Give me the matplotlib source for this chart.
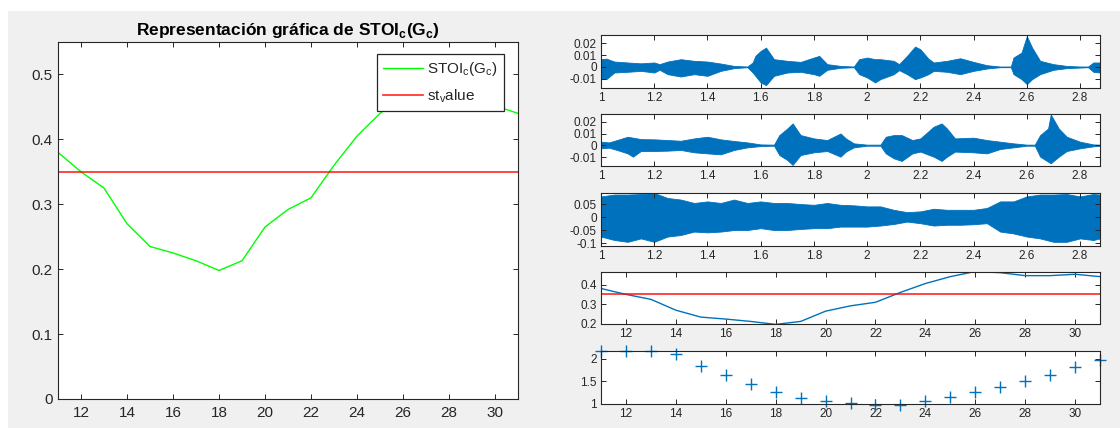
import matplotlib
matplotlib.use("Agg")
import matplotlib.pyplot as plt
from matplotlib.patches import Rectangle

plt.rcParams['font.family'] = ['Liberation Sans', 'DejaVu Sans']
plt.rcParams['mathtext.fontset'] = 'custom'
plt.rcParams['mathtext.rm'] = 'Liberation Sans'
plt.rcParams['mathtext.bf'] = 'Liberation Sans:bold'
plt.rcParams['axes.unicode_minus'] = False

# curva STOI frente a Gc
gc = [11, 12, 13, 14, 15, 16, 17, 18, 19, 20, 21, 22, 23, 24, 25, 26, 27, 28, 29, 30, 31]
stoi = [0.38, 0.35, 0.325, 0.27, 0.235, 0.225, 0.213, 0.198, 0.213, 0.265, 0.292,
        0.31, 0.36, 0.405, 0.44, 0.466, 0.46, 0.445, 0.445, 0.452, 0.44]
st_value = 0.35
# marcadores "+" del panel inferior
cruces = [2.18, 2.18, 2.18, 2.10, 1.85, 1.63, 1.43, 1.26, 1.12, 1.06, 1.01, 0.98,
          0.98, 1.06, 1.16, 1.26, 1.37, 1.50, 1.65, 1.81, 1.98]

# envolventes de las señales
t1 = [1.00, 1.02, 1.05, 1.10, 1.15, 1.20, 1.22, 1.25, 1.30, 1.35, 1.40, 1.45, 1.50, 1.55,
      1.57, 1.58, 1.60, 1.62, 1.65, 1.70, 1.75, 1.80, 1.82, 1.85, 1.90, 1.95, 1.97, 2.00,
      2.03, 2.05, 2.10, 2.12, 2.15, 2.18, 2.20, 2.23, 2.25, 2.30, 2.35, 2.40, 2.45, 2.50,
      2.54, 2.55, 2.58, 2.60, 2.62, 2.65, 2.70, 2.75, 2.80, 2.83, 2.85, 2.875]
up1 = [0.0065, 0.007, 0.0045, 0.0037, 0.003, 0.0037, 0.0023, 0.0045, 0.0065, 0.0051,
       0.0045, 0.0028, 0.0008, 0.0003, 0.0037, 0.0093, 0.0135, 0.0163, 0.0065, 0.0051,
       0.0042, 0.0079, 0.0093, 0.0023, 0.0008, 0.0003, 0.0065, 0.0079, 0.0065, 0.0065,
       0.0051, 0.0023, 0.0093, 0.0172, 0.0149, 0.007, 0.0037, 0.0051, 0.0073, 0.0042,
       0.0014, 0.0003, 0.0003, 0.0079, 0.0121, 0.026, 0.0163, 0.0051, 0.0023, 0.0008,
       0.0003, 0.0003, 0.0037, 0.0037]
lo1 = [-0.0104, -0.0104, -0.0048, -0.0042, -0.0034, -0.0048, -0.0025, -0.0062, -0.0082,
       -0.0062, -0.0076, -0.0034, -0.0011, -0.0003, -0.0048, -0.0076, -0.0132, -0.0155,
       -0.0076, -0.0048, -0.0042, -0.0062, -0.0076, -0.0025, -0.0008, -0.0003, -0.0062,
       -0.009, -0.0132, -0.0104, -0.0062, -0.0028, -0.0062, -0.0104, -0.009, -0.0062,
       -0.0034, -0.0042, -0.0062, -0.0034, -0.0014, -0.0003, -0.0003, -0.0062, -0.0104,
       -0.0146, -0.0104, -0.0062, -0.0025, -0.0011, -0.0006, -0.0003, -0.0042, -0.0048]

t2 = [1.00, 1.03, 1.06, 1.10, 1.12, 1.15, 1.20, 1.25, 1.30, 1.35, 1.40, 1.45, 1.50, 1.55,
      1.60, 1.65, 1.67, 1.70, 1.72, 1.75, 1.80, 1.85, 1.90, 1.92, 1.95, 2.00, 2.05, 2.07,
      2.10, 2.13, 2.17, 2.20, 2.25, 2.28, 2.30, 2.33, 2.40, 2.45, 2.50, 2.55, 2.60, 2.63,
      2.65, 2.68, 2.69, 2.72, 2.75, 2.80, 2.85, 2.875]
up2 = [0.0031, 0.0025, 0.0045, 0.0073, 0.0065, 0.0053, 0.0051, 0.0045, 0.0039, 0.0059,
       0.0073, 0.0051, 0.0037, 0.0025, 0.0008, 0.0006, 0.0087, 0.0143, 0.0186, 0.0087,
       0.0059, 0.0045, 0.0101, 0.0059, 0.0017, 0.0006, 0.0006, 0.0073, 0.0087, 0.0087,
       0.0045, 0.0059, 0.0158, 0.0186, 0.0143, 0.0059, 0.0065, 0.0045, 0.0031, 0.0017,
       0.0006, 0.0006, 0.0087, 0.0143, 0.0262, 0.0143, 0.0073, 0.0031, 0.0008, 0.0006]
lo2 = [-0.0025, -0.002, -0.0039, -0.0068, -0.0096, -0.0048, -0.0048, -0.0045, -0.0039,
       -0.0059, -0.0068, -0.0076, -0.0039, -0.0017, -0.0006, -0.0003, -0.0082, -0.0124,
       -0.0166, -0.0082, -0.0059, -0.0048, -0.0096, -0.0053, -0.0017, -0.0003, -0.0003,
       -0.0068, -0.011, -0.0132, -0.0068, -0.0053, -0.0096, -0.0132, -0.0096, -0.0053,
       -0.0059, -0.0068, -0.0031, -0.0017, -0.0003, -0.0003, -0.0096, -0.0138, -0.0152,
       -0.0096, -0.0048, -0.0025, -0.0008, -0.0003]

t3 = [1.00, 1.05, 1.10, 1.15, 1.20, 1.25, 1.30, 1.35, 1.40, 1.45, 1.50, 1.55, 1.60, 1.65,
      1.70, 1.75, 1.80, 1.85, 1.90, 1.95, 2.00, 2.05, 2.10, 2.15, 2.20, 2.25, 2.30, 2.35,
      2.40, 2.45, 2.50, 2.55, 2.60, 2.65, 2.70, 2.75, 2.80, 2.85, 2.875]
up3 = [0.079, 0.086, 0.086, 0.088, 0.092, 0.073, 0.067, 0.054, 0.060, 0.054, 0.067, 0.054,
       0.060, 0.054, 0.054, 0.050, 0.047, 0.054, 0.047, 0.045, 0.041, 0.041, 0.028, 0.019,
       0.022, 0.032, 0.028, 0.028, 0.028, 0.035, 0.060, 0.060, 0.079, 0.086, 0.086, 0.088,
       0.079, 0.088, 0.086]
lo3 = [-0.074, -0.087, -0.094, -0.081, -0.094, -0.074, -0.068, -0.055, -0.058, -0.055,
       -0.049, -0.049, -0.042, -0.049, -0.049, -0.045, -0.042, -0.042, -0.036, -0.036,
       -0.036, -0.032, -0.026, -0.017, -0.023, -0.032, -0.029, -0.029, -0.027, -0.023,
       -0.055, -0.062, -0.074, -0.081, -0.094, -0.094, -0.081, -0.087, -0.081]

azul = '#0072BD'
gris = '#262626'
W, H = 1120, 428

fig = plt.figure(figsize=(11.2, 4.28), dpi=100)
fig.patch.set_facecolor('white')
fig.add_artist(Rectangle((8 / W, 0), 1, 1 - 11 / H, transform=fig.transFigure,
                         facecolor='#f0f0f0', edgecolor='none', zorder=-10))


def estilo(ax, size, pad_x, pad_y):
    ax.set_facecolor('white')
    for s in ax.spines.values():
        s.set_color(gris)
        s.set_linewidth(0.8)
    ax.tick_params(direction='in', top=True, right=True, length=3.5, width=0.7,
                   colors=gris, labelsize=size, labelcolor=gris)
    ax.tick_params(axis='x', pad=pad_x)
    ax.tick_params(axis='y', pad=pad_y)


def caja(top, bottom, left=601, right=1100):
    return [left / W, 1 - bottom / H, (right - left) / W, (bottom - top) / H]


# panel izquierdo
ax = fig.add_axes(caja(42, 399, 58, 518))
estilo(ax, 11, 5, 4)
ax.plot(gc, stoi, color='#00ff00', lw=1.0, label=r'STOI$_\mathrm{c}$(G$_\mathrm{c}$)')
ax.axhline(st_value, color='#ff0000', lw=1.2, alpha=0.85, label=r'st$_\mathrm{v}$alue')
ax.set_xlim(11, 31)
ax.set_ylim(0, 0.55)
ax.set_xticks(range(12, 31, 2))
ax.set_yticks([0, 0.1, 0.2, 0.3, 0.4, 0.5])
ax.set_yticklabels(['0', '0.1', '0.2', '0.3', '0.4', '0.5'])
ax.set_title(r'Representación gráfica de STOI$_\mathbf{c}$(G$_\mathbf{c}$)',
             fontsize=12.5, fontweight='bold', color='black', pad=5)
leg = ax.legend(loc='upper right', bbox_to_anchor=(0.9696, 0.966), borderaxespad=0,
                fancybox=False, framealpha=1, edgecolor=gris, fontsize=11,
                handlelength=2.6, handletextpad=0.3, borderpad=0.4, labelspacing=0.6)
leg.get_frame().set_linewidth(0.9)
for txt in leg.get_texts():
    txt.set_color(gris)

# paneles derechos: señales
senales = [(t1, up1, lo1, (-0.0175, 0.027), [-0.01, 0, 0.01, 0.02], ['-0.01', '0', '0.01', '0.02']),
           (t2, up2, lo2, (-0.0175, 0.027), [-0.01, 0, 0.01, 0.02], ['-0.01', '0', '0.01', '0.02']),
           (t3, up3, lo3, (-0.108, 0.092), [-0.1, -0.05, 0, 0.05], ['-0.1', '-0.05', '0', '0.05'])]
tops = [35, 113.5, 193]
for (t, up, lo, yl, yt, ytl), top in zip(senales, tops):
    a = fig.add_axes(caja(top, top + 52.5))
    estilo(a, 8.5, 3, 3)
    a.fill_between(t, lo, up, color=azul, lw=0.6)
    a.set_xlim(1, 2.875)
    a.set_ylim(*yl)
    a.set_xticks([1, 1.2, 1.4, 1.6, 1.8, 2, 2.2, 2.4, 2.6, 2.8])
    a.set_xticklabels(['1', '1.2', '1.4', '1.6', '1.8', '2', '2.2', '2.4', '2.6', '2.8'])
    a.set_yticks(yt)
    a.set_yticklabels(ytl)

# STOI con umbral
a4 = fig.add_axes(caja(271.5, 324))
estilo(a4, 8.5, 3, 3)
a4.plot(gc, stoi, color=azul, lw=1.0)
a4.axhline(st_value, color='#ff0000', lw=1.2, alpha=0.85)
a4.set_xlim(11, 31)
a4.set_ylim(0.2, 0.466)
a4.set_xticks(range(12, 31, 2))
a4.set_yticks([0.2, 0.3, 0.4])
a4.set_yticklabels(['0.2', '0.3', '0.4'])

# cruces
a5 = fig.add_axes(caja(350.7, 403.7))
estilo(a5, 8.5, 3, 3)
a5.plot(gc, cruces, '+', color=azul, ms=9, mew=1.0, clip_on=False)
a5.set_xlim(11, 31)
a5.set_ylim(1, 2.18)
a5.set_xticks(range(12, 31, 2))
a5.set_yticks([1, 1.5, 2])
a5.set_yticklabels(['1', '1.5', '2'])

fig.savefig('out.png', dpi=100)
